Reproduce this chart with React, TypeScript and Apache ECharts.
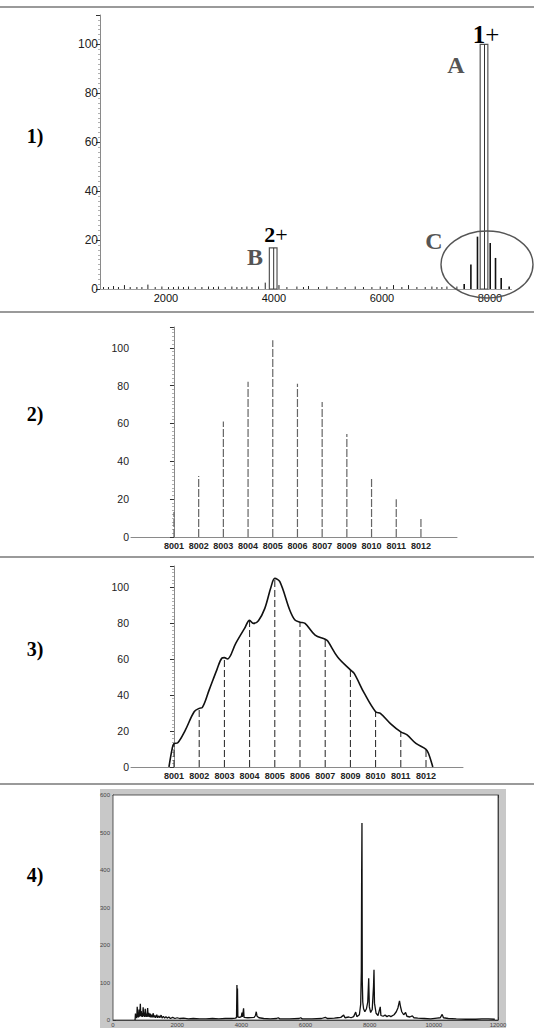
import React, { useEffect, useRef } from "react";
import * as echarts from "echarts";

// ---------- Panel 1: deconvoluted overview ----------
const p1Noise: number[][] = [
  [845, 0.8], [937, 0.8], [1030, 1.2], [1122, 0.8], [1233, 1.6], [1339, 0.8], [1463, 0.8], [1556, 0.8],
  [1667, 1.8], [1802, 0.8], [1926, 1], [2048, 0.8], [2141, 0.8], [2233, 1], [2326, 0.8], [2419, 1],
  [2543, 0.8], [2667, 0.8], [2789, 1], [2882, 0.8], [2974, 1], [3098, 0.8], [3222, 1], [3315, 0.8],
  [3407, 0.8], [3500, 1], [3593, 0.8], [3715, 1], [3840, 2.6], [4094, 1.6], [4241, 0.8], [4426, 1],
  [4548, 0.8], [4641, 1.2], [4826, 0.8], [4981, 1], [5167, 0.8], [5320, 0.8], [5506, 1], [5659, 0.8],
  [5815, 0.8], [5969, 1], [6093, 0.8], [6215, 1.6], [6370, 0.8], [6493, 1.6], [6648, 0.8], [6802, 0.8],
  [6926, 1], [7019, 0.8], [7111, 0.8], [7204, 1], [7389, 1],
];
const p1ClusterPeaks: number[][] = [
  [7524, 2], [7648, 10], [7770, 21.4], [8006, 18.8], [8104, 12.7], [8209, 4.5], [8357, 1],
];
const p1Boxes: number[][] = [
  [7891, 100], // A (1+)
  [3987, 16.8], // B (2+)
];
const p1XTicks = [2000, 4000, 6000, 8000];

// ---------- Panels 2 & 3: isotope distribution ----------
const isoLabels = ["8001", "8002", "8003", "8004", "8005", "8006", "8007", "8009", "8010", "8011", "8012"];
const isoP2Heights = [13.2, 32.3, 61, 82, 104, 81, 71.4, 54.5, 30.7, 20, 10];
const isoP3Heights = [13, 32.6, 60.7, 81.5, 104.8, 80.5, 71, 54, 30.7, 19.5, 9.8];
const envelope: number[][] = [
  [-0.2, 0], [-0.06, 11], [0, 13], [0.15, 13.5], [0.45, 20.5], [0.8, 30.7], [1, 32.6], [1.12, 33],
  [1.4, 43], [1.7, 54], [1.9, 60.5], [2, 60.8], [2.12, 60], [2.45, 68.7], [2.8, 77], [3, 81.5],
  [3.15, 79.8], [3.35, 81.3], [3.6, 88], [3.85, 100], [4, 104.8], [4.2, 103], [4.6, 87], [4.8, 81.7],
  [5, 80.5], [5.2, 79.8], [5.6, 73.3], [6, 71], [6.1, 70], [6.5, 61], [7, 54], [7.15, 52], [7.55, 41],
  [8, 30.7], [8.2, 29.7], [8.6, 24], [9, 19.5], [9.25, 17.8], [9.6, 13.1], [10, 9.8], [10.1, 7.5], [10.27, 0],
];

// ---------- Panel 4: raw spectrum ----------
const spectrum: number[][] = [
  [680, 0], [690, 2], [700, 17], [712, 6], [725, 12], [740, 5], [755, 35], [768, 8], [782, 20], [795, 7],
  [810, 28], [824, 9], [838, 16], [852, 43], [866, 10], [880, 24], [894, 9], [908, 18], [922, 8], [940, 34],
  [955, 10], [970, 20], [985, 8], [1005, 30], [1020, 9], [1040, 17], [1055, 8], [1080, 32], [1095, 9],
  [1115, 19], [1135, 8], [1160, 17], [1180, 7], [1205, 14], [1225, 7], [1255, 18], [1275, 7], [1305, 12],
  [1330, 6], [1365, 14], [1395, 6], [1430, 11], [1460, 6], [1500, 13], [1530, 5], [1570, 10], [1610, 5],
  [1650, 9], [1690, 5], [1740, 8], [1790, 4], [1860, 7], [1930, 4], [2000, 6], [2080, 4], [2200, 5],
  [2350, 3], [2500, 4], [2700, 3], [2900, 3], [3100, 4], [3300, 3], [3500, 4], [3700, 4], [3820, 5],
  [3850, 7], [3863, 93], [3872, 10], [3880, 84], [3892, 8], [3950, 7], [4000, 9], [4020, 20], [4035, 8],
  [4070, 31], [4085, 7], [4200, 6], [4400, 7], [4440, 12], [4466, 22], [4490, 10], [4550, 6], [4700, 4],
  [4900, 3], [5100, 4], [5150, 6], [5200, 3], [5500, 3], [5800, 4], [5850, 6], [5900, 3], [6200, 3],
  [6500, 4], [6620, 7], [6680, 4], [6900, 5], [7000, 6], [7100, 7], [7190, 13], [7230, 6], [7350, 8],
  [7420, 6], [7500, 9], [7565, 21], [7600, 9], [7680, 14], [7720, 42], [7740, 130], [7750, 385],
  [7760, 525], [7770, 104], [7785, 48], [7810, 30], [7850, 22], [7900, 30], [7940, 48], [7970, 111],
  [7990, 35], [8030, 20], [8080, 28], [8120, 90], [8135, 134], [8150, 45], [8200, 18], [8260, 12],
  [8330, 35], [8350, 12], [8420, 10], [8480, 13], [8540, 9], [8600, 12], [8660, 9], [8760, 14], [8830, 22],
  [8880, 32], [8930, 51], [8960, 36], [9000, 22], [9060, 14], [9120, 20], [9160, 10], [9250, 8],
  [9330, 11], [9380, 6], [9500, 5], [9700, 4], [9900, 3], [10100, 5], [10200, 6], [10260, 15],
  [10300, 6], [10450, 4], [10700, 3], [11000, 2], [11300, 2], [11500, 3], [11700, 3], [11900, 2],
];

const BOX_HALF = 71;
const SANS = "'Liberation Sans', Arial, sans-serif";
const SERIF = "'Liberation Serif', 'Times New Roman', serif";
const plain = (v: number) => String(v);

function stickSeries(
  xi: number,
  data: number[][],
  stroke: string,
  lineWidth: number,
  lineDash?: number[]
) {
  return {
    type: "custom",
    xAxisIndex: xi,
    yAxisIndex: xi,
    data,
    clip: false,
    renderItem: (_p: any, api: any) => {
      const x = api.value(0);
      const h = api.value(1);
      const a = api.coord([x, 0]);
      const b = api.coord([x, h]);
      return {
        type: "line",
        shape: { x1: a[0], y1: a[1], x2: b[0], y2: b[1] },
        style: { stroke, lineWidth, lineDash: lineDash || null, fill: null },
      };
    },
  };
}

function yAxisStd(grid: number, max: number, fontSize: number) {
  return {
    type: "value",
    gridIndex: grid,
    min: 0,
    max,
    interval: 20,
    axisLine: { show: true, lineStyle: { color: "#8a8a8a", width: 1 } },
    axisTick: { show: true, length: 4, lineStyle: { color: "#333" } },
    minorTick: { show: true, splitNumber: 10, length: 2, lineStyle: { color: "#b0b0b0" } },
    splitLine: { show: false },
    axisLabel: { fontSize, color: "#222", margin: 2, fontFamily: SANS, showMaxLabel: false, formatter: plain },
  };
}

function isoXAxis(grid: number, min: number, max: number) {
  return {
    type: "value",
    gridIndex: grid,
    min,
    max,
    axisLine: { show: true, onZero: false, lineStyle: { color: "#8a8a8a", width: 1 } },
    axisTick: { show: false },
    splitLine: { show: false },
    axisLabel: {
      customValues: isoLabels.map((_, i) => i),
      formatter: (v: number) => isoLabels[Math.round(v)] || "",
      fontSize: 9,
      fontWeight: "bold",
      color: "#222",
      margin: 4,
      fontFamily: SANS,
    },
  };
}

export default function App() {
  const ref = useRef<HTMLDivElement>(null);
  useEffect(() => {
    if (!ref.current) return;
    const chart = echarts.init(ref.current, null, { renderer: "svg" });
    const p4Axis = (pos: string, showLabel: boolean) => ({
      type: "value",
      gridIndex: 3,
      position: pos,
      min: 0,
      max: 12000,
      interval: 2000,
      axisLine: { show: true, onZero: false, lineStyle: { color: "#333", width: 0.8 } },
      axisTick: { show: true, inside: true, length: 3, lineStyle: { color: "#333" } },
      splitLine: { show: false },
      axisLabel: { show: showLabel, fontSize: 6, color: "#444", margin: 2, fontFamily: SANS, formatter: plain },
    });
    const p4YAxis = (pos: string, showLabel: boolean) => ({
      type: "value",
      gridIndex: 3,
      position: pos,
      min: 0,
      max: 600,
      interval: 100,
      axisLine: { show: true, onZero: false, lineStyle: { color: "#333", width: 0.8 } },
      axisTick: { show: true, inside: true, length: 3, lineStyle: { color: "#333" } },
      splitLine: { show: false },
      axisLabel: { show: showLabel, fontSize: 6, color: "#444", margin: 3, fontFamily: SANS, formatter: plain },
    });

    const option: any = {
      animation: false,
      backgroundColor: "#fff",
      grid: [
        { left: 100, top: 15, width: 411.5, height: 274 },
        { left: 131, top: 327, width: 326, height: 210 },
        { left: 131, top: 566, width: 332, height: 201 },
        { left: 113, top: 795, width: 385, height: 226, show: true, backgroundColor: "#fff", borderColor: "#333", borderWidth: 0.8, z: 1 },
      ],
      xAxis: [
        {
          type: "value",
          gridIndex: 0,
          min: 780,
          max: 8400,
          axisLine: { show: true, onZero: false, lineStyle: { color: "#a0a0a0", width: 1 } },
          axisTick: { show: false },
          splitLine: { show: false },
          axisLabel: { customValues: p1XTicks, fontSize: 11, color: "#111", margin: 3, fontFamily: SANS, formatter: plain },
        },
        isoXAxis(1, -1.74, 11.46),
        isoXAxis(2, -1.706, 11.468),
        p4Axis("bottom", true),
        p4Axis("top", false),
      ],
      yAxis: [
        yAxisStd(0, 112, 12),
        yAxisStd(1, 111, 10.5),
        yAxisStd(2, 111.7, 10.5),
        p4YAxis("left", true),
        p4YAxis("right", false),
      ],
      series: [
        stickSeries(0, p1Noise, "#222", 1),
        stickSeries(0, p1ClusterPeaks, "#111", 1.6),
        {
          type: "custom",
          xAxisIndex: 0,
          yAxisIndex: 0,
          data: p1Boxes,
          clip: false,
          z: 5,
          renderItem: (_p: any, api: any) => {
            const x = api.value(0);
            const h = api.value(1);
            const tl = api.coord([x - BOX_HALF, h]);
            const br = api.coord([x + BOX_HALF, 0]);
            const c0 = api.coord([x, 0]);
            const c1 = api.coord([x, h]);
            return {
              type: "group",
              children: [
                {
                  type: "rect",
                  shape: { x: tl[0], y: tl[1], width: br[0] - tl[0], height: br[1] - tl[1] },
                  style: { fill: "#fff", stroke: "#555", lineWidth: 1.2 },
                },
                {
                  type: "line",
                  shape: { x1: c0[0] + 0.5, y1: c0[1], x2: c1[0] + 0.5, y2: c1[1] },
                  style: { stroke: "#333", lineWidth: 1 },
                },
              ],
            };
          },
        },
        stickSeries(1, isoP2Heights.map((h, i) => [i, h]), "#666", 1.2, [8, 2]),
        stickSeries(2, isoP3Heights.map((h, i) => [i, h]), "#222", 1, [7, 3]),
        {
          type: "line",
          xAxisIndex: 2,
          yAxisIndex: 2,
          data: envelope,
          smooth: 0.35,
          showSymbol: false,
          symbol: "none",
          lineStyle: { color: "#111", width: 1.6 },
          z: 4,
        },
        {
          type: "line",
          xAxisIndex: 3,
          yAxisIndex: 3,
          data: spectrum,
          showSymbol: false,
          symbol: "none",
          lineStyle: { color: "#111", width: 1.3 },
          z: 4,
        },
      ],
      graphic: [
        { type: "rect", z: -10, shape: { x: 100, y: 789, width: 406, height: 239 }, style: { fill: "#c8c8c8" } },
        ...[7, 312, 557, 784].map((y) => ({
          type: "line",
          z: 10,
          shape: { x1: 0, y1: y, x2: 534, y2: y },
          style: { stroke: "#9a9a9a", lineWidth: 2 },
        })),
        ...[
          ["1)", 136],
          ["2)", 414],
          ["3)", 649],
          ["4)", 875],
        ].map(([t, y]) => ({
          type: "text",
          z: 10,
          x: 35,
          y: y as number,
          style: {
            text: t as string,
            fontSize: 20,
            fontWeight: "bold",
            fontFamily: SERIF,
            fill: "#000",
            align: "center",
            verticalAlign: "middle",
          },
        })),
        {
          type: "ellipse",
          z: 20,
          shape: { cx: 487, cy: 264.5, rx: 46, ry: 33.5 },
          style: { fill: null, stroke: "#555", lineWidth: 1.4 },
        },
        {
          type: "text",
          z: 20,
          x: 486,
          y: 34,
          style: {
            text: "{a|1}{b|+}",
            align: "center",
            verticalAlign: "middle",
            rich: {
              a: { fontSize: 25, fontWeight: "bold", fontFamily: SERIF, fill: "#000" },
              b: { fontSize: 25, fontWeight: "normal", fontFamily: SERIF, fill: "#000" },
            },
          },
        },
        {
          type: "text",
          z: 20,
          x: 276,
          y: 234,
          style: {
            text: "{a|2}{b|+}",
            align: "center",
            verticalAlign: "middle",
            rich: {
              a: { fontSize: 22, fontWeight: "bold", fontFamily: SERIF, fill: "#000" },
              b: { fontSize: 22, fontWeight: "normal", fontFamily: SERIF, fill: "#000" },
            },
          },
        },
        ...[
          ["A", 456, 65],
          ["B", 255, 257],
          ["C", 434, 241],
        ].map(([t, x, y]) => ({
          type: "text",
          z: 20,
          x: x as number,
          y: y as number,
          style: {
            text: t as string,
            fontSize: 24,
            fontWeight: "bold",
            fontFamily: SERIF,
            fill: "#555",
            align: "center",
            verticalAlign: "middle",
          },
        })),
      ],
    };
    chart.setOption(option);
    return () => chart.dispose();
  }, []);
  return (
    <div
      ref={ref}
      style={{ position: "absolute", left: 0, top: 0, width: 534, height: 1028, background: "#fff" }}
    />
  );
}
